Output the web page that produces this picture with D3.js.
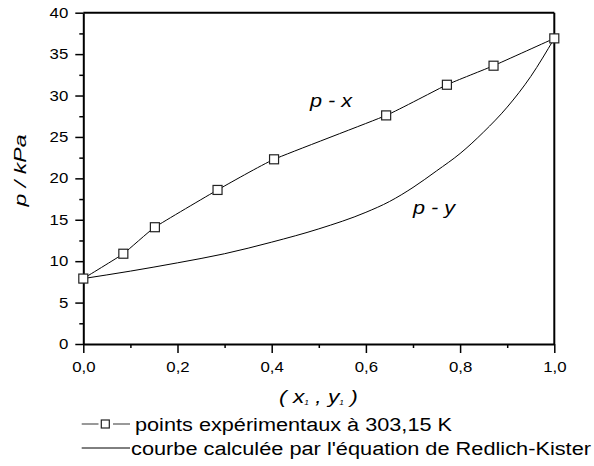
<!DOCTYPE html>
<html>
<head>
<meta charset="utf-8">
<script src="https://cdn.jsdelivr.net/npm/d3@7"></script>
<style>
  body { margin: 0; background: #fff; }
  text { font-family: Arial, "Liberation Sans", sans-serif; fill: #000; }
</style>
</head>
<body>
<div id="chart"></div>
<script>
// tick values
var xTicks = [0, 0.2, 0.4, 0.6, 0.8, 1.0];
var xMinor = [0.1, 0.3, 0.5, 0.7, 0.9];
var yTicks = [0, 5, 10, 15, 20, 25, 30, 35, 40];
var yMinor = [2.5, 7.5, 12.5, 17.5, 22.5, 27.5, 32.5, 37.5];

// experimental points (p - x)
var expX = [0, 0.085, 0.152, 0.285, 0.405, 0.643, 0.772, 0.871, 1.0];
var expP = [7.9, 10.9, 14.1, 18.6, 22.3, 27.6, 31.3, 33.6, 36.9];

// Redlich-Kister curve (p - y)
var calcY = [0, 0.1, 0.2, 0.3, 0.4, 0.5, 0.6, 0.65, 0.7, 0.75, 0.8, 0.85, 0.9, 0.95, 1.0];
var calcP = [7.9, 8.8, 9.8, 10.9, 12.3, 13.9, 15.9, 17.2, 18.9, 20.9, 23.0, 25.6, 28.6, 32.3, 36.9];

var width = 594, height = 466;
var svg = d3.select("#chart").append("svg")
    .attr("width", width)
    .attr("height", height);

var x = d3.scaleLinear().domain([0, 1]).range([83.3, 554.3]);
var y = d3.scaleLinear().domain([0, 40]).range([344, 12.7]);

var fmt = function(d) { return d3.format(".1f")(d).replace(".", ","); };

// minor ticks
svg.append("g")
   .attr("transform", "translate(0," + y(0) + ")")
   .call(d3.axisBottom(x).tickValues(xMinor).tickSize(4).tickFormat(""))
   .call(function(g) { g.select(".domain").remove(); })
   .selectAll("line").attr("stroke-width", 1.5);
svg.append("g")
   .attr("transform", "translate(" + x(0) + ",0)")
   .call(d3.axisLeft(y).tickValues(yMinor).tickSize(4).tickFormat(""))
   .call(function(g) { g.select(".domain").remove(); })
   .selectAll("line").attr("stroke-width", 1.5);

// main axes
var xAxis = svg.append("g")
   .attr("transform", "translate(0," + y(0) + ")")
   .call(d3.axisBottom(x).tickValues(xTicks).tickSize(9).tickSizeOuter(0).tickPadding(9).tickFormat(fmt));
xAxis.selectAll("text")
   .attr("font-size", 14)
   .attr("font-family", "Arial, 'Liberation Sans', sans-serif")
   .attr("transform", "scale(1.2,1)");

var yAxis = svg.append("g")
   .attr("transform", "translate(" + x(0) + ",0)")
   .call(d3.axisLeft(y).tickValues(yTicks).tickSize(8).tickSizeOuter(0).tickFormat(d3.format("d")));
yAxis.selectAll("text")
   .attr("font-size", 14)
   .attr("font-family", "Arial, 'Liberation Sans', sans-serif")
   .attr("x", -15 / 1.2)
   .attr("transform", "scale(1.2,1)");

svg.selectAll(".domain").attr("stroke-width", 2);
svg.selectAll(".tick line").filter(function() { return d3.select(this).attr("stroke-width") == null; })
   .attr("stroke-width", 1.5);

// frame top and right
svg.append("line")
   .attr("x1", x(0)).attr("x2", x(1)).attr("y1", y(40)).attr("y2", y(40))
   .attr("stroke", "#000").attr("stroke-width", 2);
svg.append("line")
   .attr("x1", x(1)).attr("x2", x(1)).attr("y1", y(40)).attr("y2", y(0))
   .attr("stroke", "#000").attr("stroke-width", 2);

// curves
var expData = expX.map(function(v, i) { return [v, expP[i]]; });
var calcData = calcY.map(function(v, i) { return [v, calcP[i]]; });

var smooth = d3.line()
    .x(function(d) { return x(d[0]); })
    .y(function(d) { return y(d[1]); })
    .curve(d3.curveMonotoneX);

var soft = d3.line()
    .x(function(d) { return x(d[0]); })
    .y(function(d) { return y(d[1]); })
    .curve(d3.curveCardinal.tension(0.6));

svg.append("path")
   .datum(calcData)
   .attr("d", smooth)
   .attr("fill", "none")
   .attr("stroke", "#000")
   .attr("stroke-width", 1);

svg.append("path")
   .datum(expData)
   .attr("d", soft)
   .attr("fill", "none")
   .attr("stroke", "#000")
   .attr("stroke-width", 1);

var sq = 9;
svg.selectAll("rect.pt")
   .data(expData)
   .enter()
   .append("rect")
   .attr("class", "pt")
   .attr("x", function(d) { return x(d[0]) - sq / 2; })
   .attr("y", function(d) { return y(d[1]) - sq / 2; })
   .attr("width", sq)
   .attr("height", sq)
   .attr("fill", "#fff")
   .attr("stroke", "#222")
   .attr("stroke-width", 1.2);

// in-plot labels
svg.append("text")
   .attr("x", 310).attr("y", 107)
   .attr("font-size", 18).attr("font-style", "italic")
   .attr("textLength", 42).attr("lengthAdjust", "spacingAndGlyphs")
   .text("p - x");
svg.append("text")
   .attr("x", 413).attr("y", 214)
   .attr("font-size", 18).attr("font-style", "italic")
   .attr("textLength", 42).attr("lengthAdjust", "spacingAndGlyphs")
   .text("p - y");

// y axis title
svg.append("text")
   .attr("transform", "translate(26,170.5) rotate(-90)")
   .attr("text-anchor", "middle")
   .attr("font-size", 17).attr("font-style", "italic")
   .attr("textLength", 72).attr("lengthAdjust", "spacingAndGlyphs")
   .text("p / kPa");

// x axis title
var xt = svg.append("text")
   .attr("transform", "translate(279,403) scale(1.2,1)")
   .attr("font-size", 19).attr("font-style", "italic");
xt.append("tspan").text("( x");
xt.append("tspan").attr("font-size", 7).attr("dy", 2).text("1");
xt.append("tspan").attr("dy", -2).text(" , y");
xt.append("tspan").attr("font-size", 7).attr("dy", 2).text("1");
xt.append("tspan").attr("dy", -2).text(" )");

// legend
var lg = svg.append("g");
lg.append("line")
  .attr("x1", 81.7).attr("x2", 98.5).attr("y1", 424).attr("y2", 424)
  .attr("stroke", "#555").attr("stroke-width", 1.2);
lg.append("line")
  .attr("x1", 113).attr("x2", 130).attr("y1", 424).attr("y2", 424)
  .attr("stroke", "#555").attr("stroke-width", 1.2);
lg.append("rect")
  .attr("x", 105.3 - 4).attr("y", 424 - 4).attr("width", 8).attr("height", 8)
  .attr("fill", "#fff").attr("stroke", "#222").attr("stroke-width", 1.2);
lg.append("text")
  .attr("x", 135).attr("y", 431)
  .attr("font-size", 18)
  .attr("textLength", 317).attr("lengthAdjust", "spacingAndGlyphs")
  .text("points expérimentaux à 303,15 K");

lg.append("line")
  .attr("x1", 81.7).attr("x2", 130).attr("y1", 448).attr("y2", 448)
  .attr("stroke", "#000").attr("stroke-width", 1);
lg.append("text")
  .attr("x", 131).attr("y", 455)
  .attr("font-size", 18)
  .attr("textLength", 460).attr("lengthAdjust", "spacingAndGlyphs")
  .text("courbe calculée par l'équation de Redlich-Kister");
</script>
</body>
</html>
